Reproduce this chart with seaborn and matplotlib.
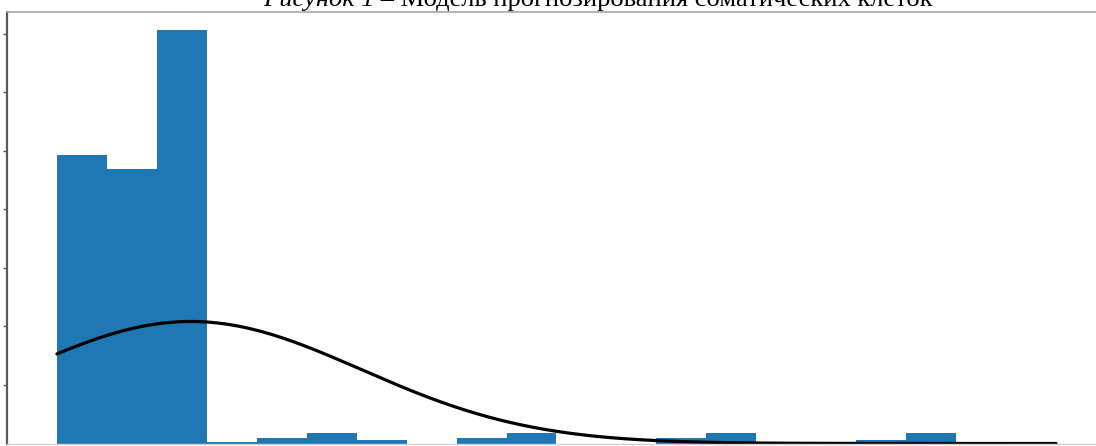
import numpy as np
import pandas as pd
import matplotlib
matplotlib.use("Agg")
import matplotlib.pyplot as plt
import seaborn as sns

# Histogram bins (20 equal-width classes) and bar heights
bin_start, bin_stop, bin_width = 0, 20, 1
bar_heights = [0.246, 0.234, 0.353, 0.0013, 0.0047, 0.0090, 0.0026, 0.0, 0.0047, 0.0090,
               0.0, 0.0, 0.0047, 0.0086, 0.0, 0.0, 0.0026, 0.0086, 0.0009, 0.0009]

# Parameters of the fitted normal curve
fit_mean = 2.68
fit_std = 3.41

title_italic = "Рисунок 1"
title_rest = " – Модель прогнозирования соматических клеток"

sns.set_style("white")
plt.rcParams["font.family"] = ["Liberation Serif", "DejaVu Serif"]

fig = plt.figure(figsize=(10.96, 4.46), dpi=100)
W, H = 1096, 446
ax = fig.add_axes([7 / W, 2.5 / H, (W - 7) / W, 432 / H])

centers = np.arange(bin_start, bin_stop, bin_width) + bin_width / 2
df = pd.DataFrame({"value": centers, "weight": bar_heights})
sns.histplot(data=df, x="value", weights="weight", binwidth=bin_width,
             binrange=(bin_start, bin_stop), stat="count",
             color="#1f77b4", alpha=1.0, linewidth=0, edgecolor="none", ax=ax)

# Normal curve scaled to the histogram area
area = float(np.sum(bar_heights) * bin_width)
xs = np.linspace(bin_start, bin_stop, 400)
ys = area * np.exp(-0.5 * ((xs - fit_mean) / fit_std) ** 2) / (fit_std * np.sqrt(2 * np.pi))
sns.lineplot(x=xs, y=ys, color="black", linewidth=2.3, ax=ax)

ax.set_xlim(-1, 20.8)
ax.set_ylim(0, max(bar_heights) * 1.045)
ax.set_xlabel("")
ax.set_ylabel("")
ax.set_xticks([])
ax.set_yticks(np.arange(0.05, 0.36, 0.05))
ax.tick_params(axis="y", direction="out", length=3, width=1, color="#555555",
               labelleft=False, left=True)
ax.spines["left"].set_color("#5a5a5a")
ax.spines["left"].set_linewidth(1.6)
ax.spines["top"].set_color("#a8a8a8")
ax.spines["top"].set_linewidth(1.2)
ax.spines["bottom"].set_color("#d0d0d0")
ax.spines["bottom"].set_linewidth(1.0)
ax.spines["right"].set_visible(False)

# Caption line above the chart, partly cut by the top edge
cap_left, cap_width = 263, 669
base_y = (H - 6) / H
fs = 20
t1 = fig.text(0, base_y, title_italic, fontsize=fs, style="italic",
              ha="left", va="baseline", color="black")
t2 = fig.text(0, base_y, title_rest, fontsize=fs, ha="left", va="baseline", color="black")
fig.canvas.draw()
r = fig.canvas.get_renderer()
total = t1.get_window_extent(r).width + t2.get_window_extent(r).width
fs = fs * cap_width / total
t1.set_fontsize(fs)
t2.set_fontsize(fs)
fig.canvas.draw()
w1 = t1.get_window_extent(r).width
t1.set_x(cap_left / W)
t2.set_x((cap_left + w1) / W)

fig.savefig("out.png", dpi=100)
